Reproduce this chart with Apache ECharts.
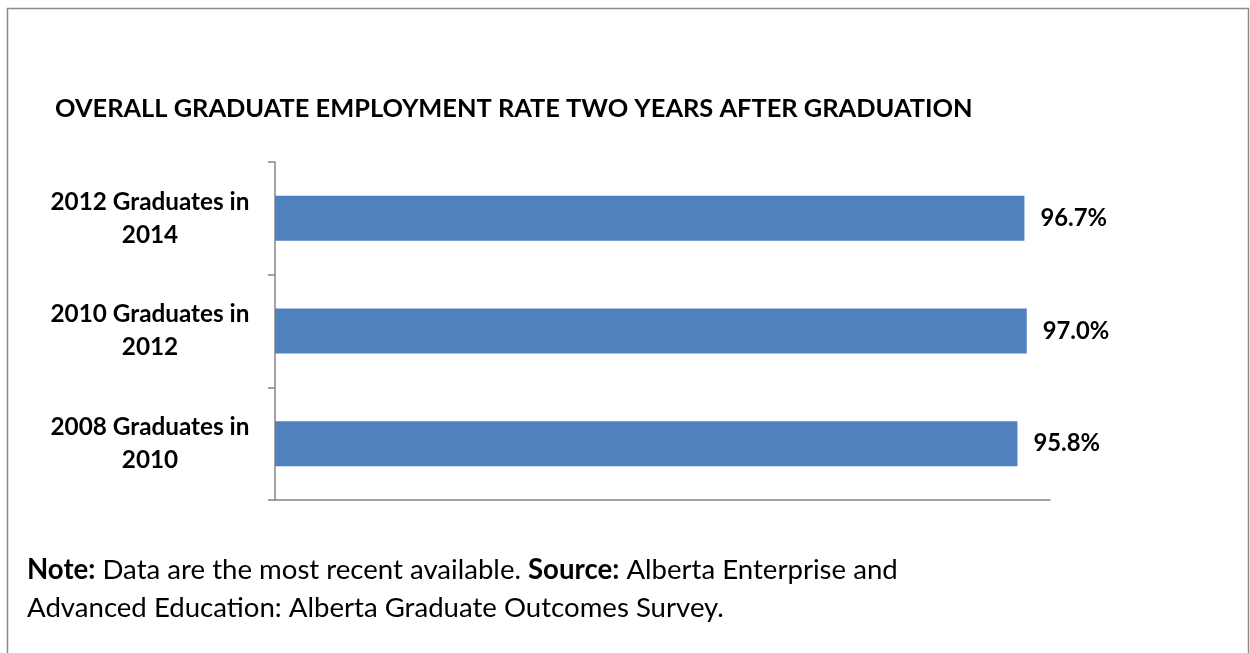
<!DOCTYPE html>
<html>
<head>
<meta charset="utf-8">
<script src="https://cdn.jsdelivr.net/npm/echarts@6/dist/echarts.min.js"></script>
<style>
html,body{margin:0;padding:0;background:#fff;}
#chart{width:1250px;height:653px;}
</style>
</head>
<body>
<div id="chart"></div>
<script>
const titleText = 'OVERALL GRADUATE EMPLOYMENT RATE TWO YEARS AFTER GRADUATION';
const categories = ['2008 Graduates in\n2010', '2010 Graduates in\n2012', '2012 Graduates in\n2014'];
const rates = [95.8, 97.0, 96.7];
const noteLine1 = ['Note:', ' Data are the most recent available. ', 'Source:', ' Alberta Enterprise and'];
const noteLine2 = 'Advanced Education: Alberta Graduate Outcomes Survey.';

const FONT = 'Lato';
const chart = echarts.init(document.getElementById('chart'), null, {renderer: 'canvas'});
const axisColor = '#868686';
chart.setOption({
  animation: false,
  backgroundColor: '#fff',
  title: {
    text: titleText,
    left: 50, top: 91,
    textStyle: {fontFamily: FONT, fontWeight: 'bold', fontSize: 25.4, color: '#000'}
  },
  grid: {left: 275, right: 200, top: 162, bottom: 153, containLabel: false},
  xAxis: {
    type: 'value', min: 0, max: 100,
    axisLine: {show: true, lineStyle: {color: axisColor, width: 1.5}},
    axisTick: {show: false}, axisLabel: {show: false}, splitLine: {show: false}
  },
  yAxis: {
    type: 'category', data: categories,
    axisLine: {show: true, lineStyle: {color: axisColor, width: 1.5}},
    axisTick: {show: true, length: 7, lineStyle: {color: axisColor, width: 1.5}},
    axisLabel: {
      align: 'center', margin: 125, lineHeight: 33,
      fontFamily: FONT, fontWeight: 'bold', fontSize: 24.3, color: '#000'
    }
  },
  series: [{
    type: 'bar', data: rates, barCategoryGap: '60%',
    itemStyle: {color: '#4F81BD'},
    label: {
      show: true, position: 'right', distance: 16,
      formatter: p => p.value.toFixed(1) + '%',
      fontFamily: FONT, fontWeight: 'bold', fontSize: 23.8, color: '#000'
    }
  }],
  graphic: [
    {type: 'rect', shape: {x: 7.5, y: 8.5, width: 1241, height: 700},
     style: {fill: 'none', stroke: '#8a8a8a', lineWidth: 1.5}, silent: true},
    {type: 'text', left: 27, top: 556,
     style: {
       text: '{b|' + noteLine1[0] + '}{r|' + noteLine1[1] + '}{b|' + noteLine1[2] + '}{r|' + noteLine1[3] + '}\n{r|' + noteLine2 + '}',
       rich: {
         b: {fontFamily: FONT, fontWeight: 'bold', fontSize: 27.6, lineHeight: 38, fill: '#000', color: '#000'},
         r: {fontFamily: FONT, fontWeight: 'normal', fontSize: 27.6, lineHeight: 38, fill: '#000', color: '#000'}
       }
     }}
  ]
});
</script>
</body>
</html>
